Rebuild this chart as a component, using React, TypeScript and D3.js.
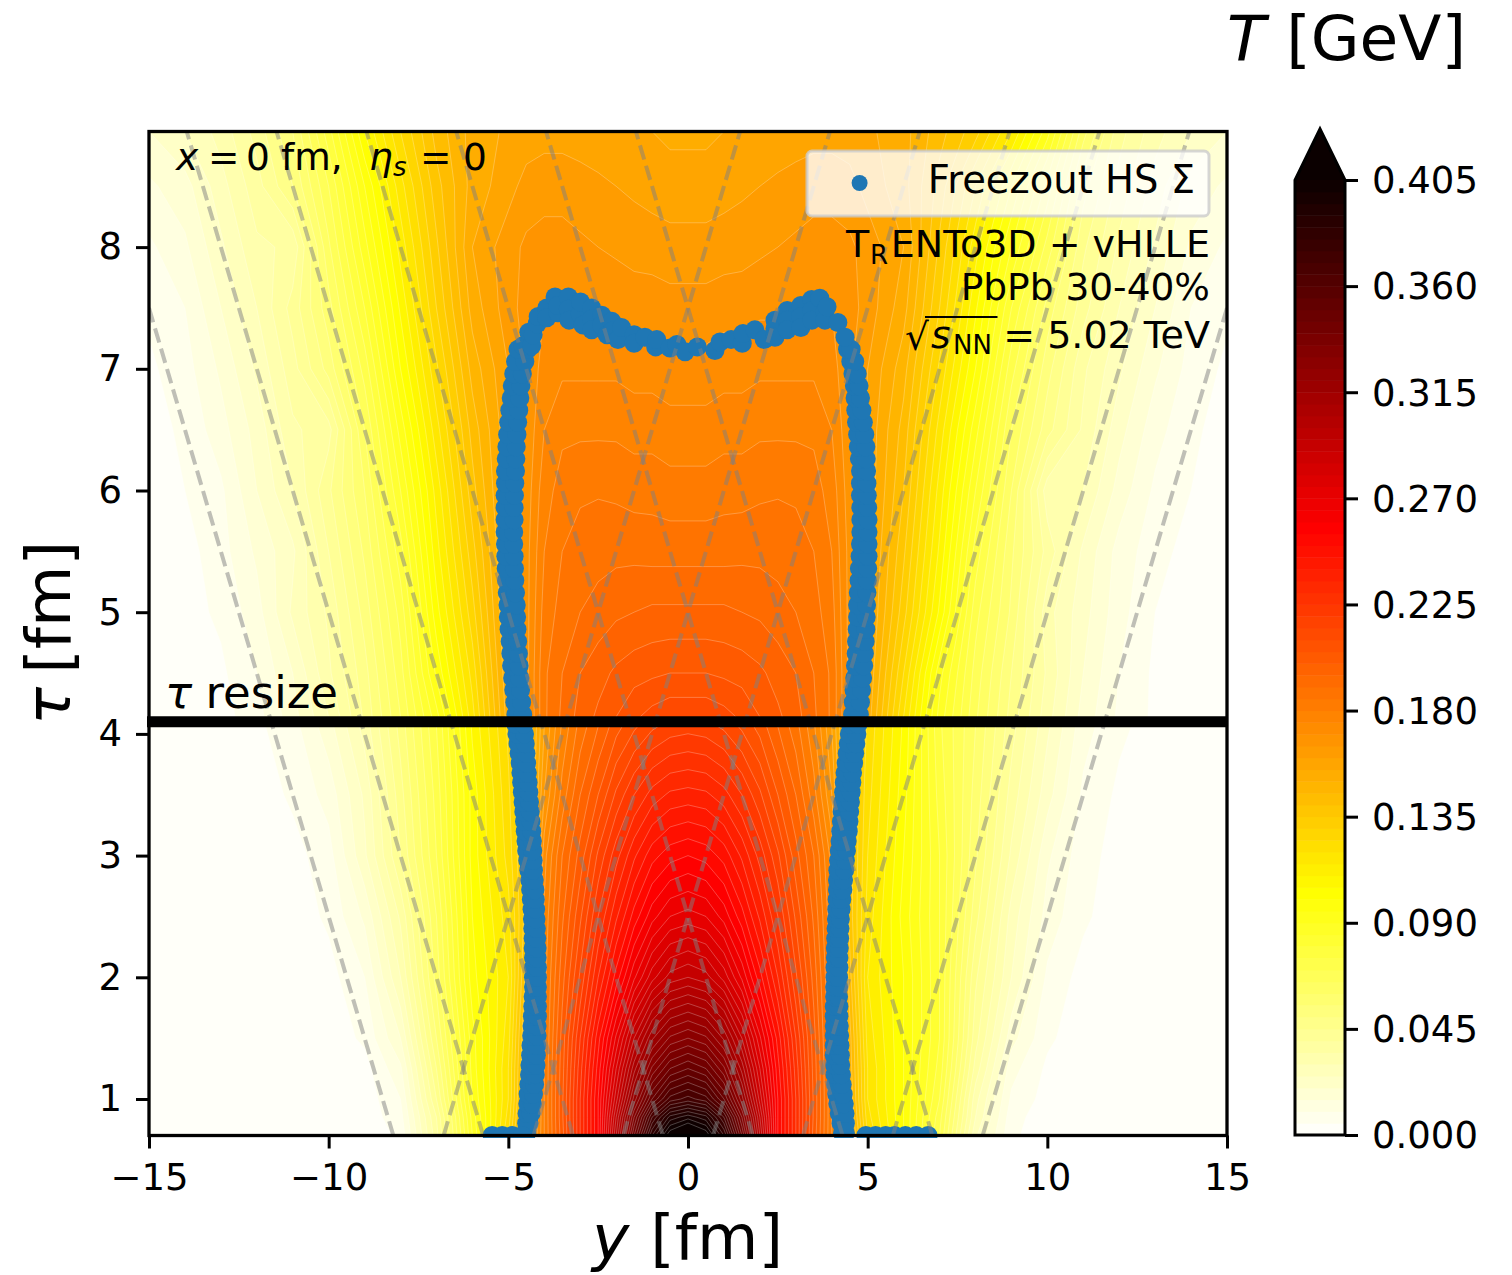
import * as React from "react";
import { useEffect, useRef } from "react";
import * as d3 from "d3";

// tick labels
const yTicks = [-15, -10, -5, 0, 5, 10, 15];
const tauTicks = [1, 2, 3, 4, 5, 6, 7, 8];
const cbarTicks = [0, 0.045, 0.09, 0.135, 0.18, 0.225, 0.27, 0.315, 0.36, 0.405];

// temperature grid, in MeV
const gridY = [-15, -14, -13, -12, -11, -10, -9, -8, -7, -6, -5,
  -4.5, -4, -3.5, -3, -2.5, -2, -1.5, -1, -0.5, 0, 0.5, 1, 1.5, 2, 2.5, 3, 3.5, 4, 4.5,
  5, 6, 7, 8, 9, 10, 11, 12, 13, 14, 15];
const gridTau = [0.7, 0.85, 1, 1.25, 1.5, 2, 2.5, 3, 3.5, 4.06, 4.14, 4.5, 5, 5.5, 6, 6.5, 7, 7.5, 8, 8.5, 8.95];

// y = -15 .. -5
const fieldLeft = [
  [2, 2, 2, 2, 2, 2, 2, 6, 38, 85, 125],
  [2, 2, 2, 2, 2, 2, 2, 8, 40, 87, 122],
  [2, 2, 2, 2, 2, 2, 2, 10, 45, 90, 120],
  [2, 2, 2, 2, 2, 2, 3, 14, 50, 92, 120],
  [2, 2, 2, 2, 2, 2, 6, 20, 55, 93, 118],
  [2, 2, 2, 2, 2, 3, 10, 30, 62, 98, 115],
  [2, 2, 2, 2, 2, 6, 16, 36, 65, 100, 118],
  [2, 2, 2, 2, 3, 8, 24, 45, 70, 102, 122],
  [2, 2, 2, 2, 6, 12, 26, 48, 72, 102, 124],
  [2, 2, 2, 4, 8, 18, 32, 52, 75, 106, 126],
  [2, 2, 3, 8, 18, 30, 46, 65, 88, 118, 153],
  [2, 2, 4, 10, 20, 34, 48, 68, 96, 122, 155],
  [2, 3, 6, 13, 26, 36, 52, 72, 103, 128, 157],
  [2, 3, 8, 16, 24, 40, 56, 78, 108, 133, 158],
  [2, 5, 9, 20, 30, 44, 60, 85, 112, 138, 159],
  [3, 6, 13, 22, 34, 38, 65, 92, 118, 142, 159],
  [4, 8, 16, 26, 38, 52, 72, 100, 124, 147, 160],
  [6, 10, 20, 30, 42, 58, 80, 106, 130, 152, 163],
  [9, 14, 24, 34, 36, 64, 88, 112, 134, 155, 163],
  [14, 18, 28, 38, 50, 70, 95, 118, 138, 152, 158],
  [20, 25, 32, 42, 55, 78, 105, 125, 142, 152, 156],
];
// y = -4.5 .. 0, the core looks mirror symmetric
const fieldCore = [
  [155, 180, 203, 230, 255, 300, 345, 385, 410, 420],
  [152, 180, 204, 230, 255, 295, 335, 370, 392, 398],
  [150, 180, 204, 230, 255, 288, 322, 350, 367, 372],
  [148, 180, 203, 228, 252, 280, 308, 331, 345, 350],
  [147, 179, 202, 225, 248, 271, 295, 314, 326, 330],
  [142, 178, 198, 216, 235, 252, 269, 283, 292, 295],
  [138, 176, 194, 209, 225, 239, 252, 263, 270, 272],
  [138, 173, 190, 202, 216, 228, 239, 248, 253, 255],
  [137, 165, 182, 195, 205, 216, 225, 232, 236, 237],
  [137, 160, 176, 187, 195, 203, 209, 214, 217, 218],
  [168, 184, 191, 197, 201, 205, 209, 212, 214, 214],
  [168, 184, 190, 195, 198, 201, 203, 204, 205, 205],
  [168, 182, 187, 190, 192, 194, 195, 196, 196, 196],
  [168, 180, 185, 187.5, 188, 188.5, 188.5, 188, 188, 188],
  [167, 178, 182, 184, 184.5, 184, 183, 183, 182, 182],
  [166, 175, 179, 179, 179, 179, 178, 178, 177, 177],
  [166, 172, 174, 174, 174, 174, 173, 173, 172, 172],
  [167, 170, 170, 170, 169, 169, 168, 168, 167, 167],
  [166, 167, 167, 166, 165, 164, 163, 162.5, 162, 162],
  [162, 163, 163, 162, 161, 160, 159, 158, 157, 157],
  [157, 158, 158, 157.5, 157, 156, 155, 155, 154, 154],
];
// y = 5 .. 15
const fieldRight = [
  [125, 100, 70, 26, 6, 2, 2, 2, 2, 2, 2],
  [122, 100, 72, 30, 7, 2, 2, 2, 2, 2, 2],
  [120, 100, 75, 32, 9, 3, 2, 2, 2, 2, 2],
  [120, 100, 78, 38, 12, 4, 2, 2, 2, 2, 2],
  [118, 100, 80, 42, 17, 6, 2, 2, 2, 2, 2],
  [115, 100, 80, 46, 25, 9, 3, 2, 2, 2, 2],
  [118, 98, 80, 52, 28, 13, 6, 2, 2, 2, 2],
  [120, 100, 80, 56, 34, 16, 7, 3, 2, 2, 2],
  [122, 102, 78, 58, 38, 22, 9, 4, 2, 2, 2],
  [124, 104, 76, 60, 42, 26, 12, 6, 3, 2, 2],
  [153, 120, 88, 66, 48, 32, 18, 9, 4, 2, 2],
  [155, 125, 92, 68, 50, 34, 20, 10, 4, 2, 2],
  [157, 132, 104, 72, 54, 32, 22, 12, 5, 3, 2],
  [158, 136, 109, 78, 56, 38, 24, 13, 7, 3, 2],
  [159, 140, 113, 85, 60, 32, 30, 18, 9, 5, 2],
  [159, 143, 118, 92, 65, 47, 34, 22, 12, 6, 3],
  [160, 147, 124, 100, 72, 52, 36, 26, 16, 8, 4],
  [163, 152, 130, 106, 80, 58, 42, 30, 20, 10, 6],
  [163, 155, 134, 112, 90, 68, 46, 34, 24, 14, 9],
  [158, 152, 138, 120, 100, 78, 52, 38, 28, 18, 14],
  [156, 152, 142, 132, 115, 92, 62, 42, 32, 25, 20],
];

// freezeout surface below the resize time, two tracks per side
const lowerTau = [0.72, 0.8, 0.88, 0.96, 1.04, 1.12, 1.2, 1.28, 1.36, 1.44, 1.52, 1.6, 1.68, 1.76, 1.84, 1.92, 2.0, 2.08, 2.16, 2.24, 2.32, 2.4, 2.48, 2.56, 2.64, 2.72, 2.8, 2.88, 2.96, 3.04, 3.12, 3.2, 3.28, 3.36, 3.44, 3.52, 3.6, 3.68, 3.76, 3.84, 3.92, 4.0, 4.08];
const lowerLeftOuter = [-4.5, -4.49, -4.48, -4.46, -4.45, -4.43, -4.41, -4.4, -4.38, -4.37, -4.35, -4.34, -4.33, -4.32, -4.31, -4.3, -4.3, -4.3, -4.3, -4.31, -4.31, -4.32, -4.33, -4.34, -4.36, -4.38, -4.4, -4.43, -4.46, -4.49, -4.51, -4.53, -4.55, -4.57, -4.59, -4.61, -4.63, -4.65, -4.67, -4.7, -4.73, -4.76, -4.79];
const lowerLeftInner = [-4.49, -4.43, -4.37, -4.33, -4.3, -4.27, -4.25, -4.23, -4.22, -4.21, -4.2, -4.2, -4.19, -4.19, -4.19, -4.19, -4.19, -4.19, -4.2, -4.2, -4.21, -4.22, -4.23, -4.24, -4.25, -4.26, -4.28, -4.3, -4.31, -4.32, -4.33, -4.35, -4.37, -4.39, -4.41, -4.43, -4.45, -4.47, -4.49, -4.51, -4.53, -4.55, -4.57];
const lowerRightInner = [4.3, 4.26, 4.21, 4.17, 4.14, 4.11, 4.09, 4.08, 4.07, 4.07, 4.07, 4.07, 4.07, 4.07, 4.08, 4.08, 4.09, 4.09, 4.1, 4.1, 4.11, 4.12, 4.13, 4.14, 4.15, 4.16, 4.16, 4.17, 4.19, 4.21, 4.23, 4.25, 4.27, 4.29, 4.31, 4.33, 4.35, 4.37, 4.4, 4.43, 4.46, 4.49, 4.52];
const lowerRightOuter = [4.38, 4.38, 4.37, 4.35, 4.32, 4.29, 4.27, 4.25, 4.24, 4.23, 4.22, 4.21, 4.2, 4.2, 4.19, 4.19, 4.19, 4.2, 4.2, 4.21, 4.22, 4.23, 4.24, 4.26, 4.28, 4.31, 4.33, 4.36, 4.38, 4.41, 4.43, 4.46, 4.48, 4.5, 4.52, 4.54, 4.56, 4.58, 4.61, 4.64, 4.67, 4.7, 4.73];

// and above it
const upperTau = [4.16, 4.26, 4.36, 4.46, 4.56, 4.66, 4.76, 4.86, 4.96, 5.06, 5.16, 5.26, 5.36, 5.46, 5.56, 5.66, 5.76, 5.86, 5.96, 6.06, 6.16, 6.26, 6.36, 6.46, 6.56, 6.66, 6.76, 6.86, 6.96, 7.06, 7.16];
const upperLeftOuter = [-4.79, -4.82, -4.85, -4.88, -4.91, -4.93, -4.95, -4.98, -5.0, -5.01, -5.03, -5.05, -5.06, -5.07, -5.08, -5.09, -5.09, -5.09, -5.09, -5.08, -5.08, -5.06, -5.04, -5.02, -4.99, -4.96, -4.92, -4.89, -4.85, -4.8, -4.73];
const upperLeftInner = [-4.6, -4.63, -4.66, -4.68, -4.7, -4.72, -4.74, -4.76, -4.77, -4.78, -4.8, -4.82, -4.83, -4.84, -4.85, -4.85, -4.84, -4.84, -4.83, -4.82, -4.8, -4.79, -4.78, -4.76, -4.74, -4.71, -4.68, -4.65, -4.61, -4.54, -4.46];
const upperRightInner = [4.58, 4.6, 4.62, 4.64, 4.66, 4.68, 4.69, 4.71, 4.72, 4.72, 4.74, 4.76, 4.77, 4.79, 4.8, 4.81, 4.81, 4.81, 4.8, 4.8, 4.8, 4.77, 4.74, 4.72, 4.69, 4.67, 4.65, 4.63, 4.59, 4.53, 4.44];
const upperRightOuter = [4.77, 4.8, 4.83, 4.86, 4.89, 4.91, 4.93, 4.95, 4.96, 4.97, 4.98, 4.99, 5.0, 5.01, 5.01, 5.01, 5.01, 5.0, 4.99, 4.98, 4.97, 4.96, 4.95, 4.92, 4.88, 4.84, 4.8, 4.76, 4.71, 4.64, 4.54];

// the cap of the surface, left to right
const capY = [-4.59, -4.35, -4.43, -4.31, -4.2, -4.17, -3.93, -3.93, -3.7, -3.62, -3.62, -3.33, -3.33, -3.31, -3.0, -2.99, -2.92, -2.68, -2.68, -2.68, -2.4, -2.4, -2.25, -2.12, -2.1, -1.95, -1.85, -1.5, -1.5, -1.2, -0.9, -0.87, -0.5, -0.31, -0.08, 0.26, 0.75, 0.89, 1.2, 1.51, 1.53, 1.86, 2.12, 2.42, 2.42, 2.42, 2.76, 2.76, 2.76, 3.14, 3.14, 3.14, 3.44, 3.45, 3.45, 3.67, 3.81, 3.81, 3.87, 4.17, 4.37];
const capTau = [7.19, 7.19, 7.3, 7.28, 7.37, 7.43, 7.5, 7.42, 7.59, 7.46, 7.52, 7.59, 7.49, 7.4, 7.45, 7.55, 7.36, 7.5, 7.41, 7.32, 7.44, 7.36, 7.28, 7.39, 7.31, 7.24, 7.34, 7.28, 7.21, 7.26, 7.18, 7.24, 7.17, 7.2, 7.14, 7.18, 7.15, 7.22, 7.24, 7.21, 7.29, 7.32, 7.24, 7.4, 7.33, 7.26, 7.48, 7.4, 7.32, 7.52, 7.43, 7.34, 7.57, 7.48, 7.4, 7.58, 7.47, 7.4, 7.51, 7.38, 7.26];

// the row of cells sitting on the initial time
const startY = [-5.45, -5.17, -4.89, -4.61, 4.95, 5.22, 5.5, 5.75, 6.05, 6.35, 6.68];
const startTau = 0.7;

// light-cone guides
const coneOffsets = [-7.5, -5, -2.5, 0, 2.5, 5, 7.5];

const resizeTau = 4.1;

// matplotlib hot_r
const hotStops = [0, 0.10286, 0.25714, 0.405];
const hotColors = ["#ffffff", "#ffff00", "#ff0000", "#0b0000"];

const levelStep = 5; // MeV
const maxLevel = 405;

const font = "'DejaVu Sans'";
const pointR = 9.5;

export default function App() {
  const ref = useRef<SVGSVGElement | null>(null);

  useEffect(() => {
    const svg = d3.select(ref.current);
    svg.selectAll("*").remove();

    const x = d3.scaleLinear().domain([-15, 15]).range([149, 1227]);
    const y = d3.scaleLinear().domain([0.7, 8.95]).range([1135.5, 131.5]);
    const cbar = d3.scaleLinear().domain([0, 0.405]).range([1135, 180]);
    const color = d3.scaleLinear<string>().domain(hotStops).range(hotColors).clamp(true);

    // grid index -> data coordinate (d3.contours puts a value at index + .5)
    const gx = d3.scaleLinear().domain(gridY.map((_, i) => i + 0.5)).range(gridY);
    const gt = d3.scaleLinear().domain(gridTau.map((_, i) => i + 0.5)).range(gridTau);

    const values: number[] = [];
    gridTau.forEach((_, j) => {
      const core = fieldCore[j];
      values.push(...fieldLeft[j], ...core, ...core.slice(0, -1).reverse(), ...fieldRight[j]);
    });

    const levels = d3.range(levelStep, maxLevel + levelStep, levelStep);
    const contours = d3.contours().size([gridY.length, gridTau.length]).thresholds(levels)(values);

    const path = d3.geoPath(d3.geoTransform({
      point(px, py) {
        this.stream.point(x(gx(px)), y(gt(py)));
      }
    }));

    const defs = svg.append("defs");
    defs.append("clipPath").attr("id", "plot").append("rect")
      .attr("x", 149).attr("y", 131.5).attr("width", 1078).attr("height", 1004);
    defs.append("clipPath").attr("id", "scatter").append("rect")
      .attr("x", 149).attr("y", 131.5).attr("width", 1078).attr("height", 1006.5);

    // filled contours
    const field = svg.append("g").attr("clip-path", "url(#plot)");
    field.append("rect").attr("x", 149).attr("y", 131.5).attr("width", 1078).attr("height", 1004)
      .attr("fill", color(levelStep / 2000));
    field.selectAll("path").data(contours).enter().append("path")
      .attr("d", d => path(d))
      .attr("fill", d => color((d.value + levelStep / 2) / 1000))
      .attr("stroke", "#fff")
      .attr("stroke-opacity", 0.32)
      .attr("stroke-width", 0.8);

    // freezeout points
    const pts: [number, number][] = [];
    lowerTau.forEach((t, i) => {
      pts.push([lowerLeftOuter[i], t], [lowerLeftInner[i], t], [lowerRightInner[i], t], [lowerRightOuter[i], t]);
    });
    upperTau.forEach((t, i) => {
      pts.push([upperLeftOuter[i], t], [upperLeftInner[i], t], [upperRightInner[i], t], [upperRightOuter[i], t]);
    });
    capY.forEach((v, i) => pts.push([v, capTau[i]]));
    startY.forEach(v => pts.push([v, startTau]));

    svg.append("g").attr("clip-path", "url(#scatter)")
      .selectAll("circle").data(pts).enter().append("circle")
      .attr("cx", d => x(d[0]))
      .attr("cy", d => y(d[1]))
      .attr("r", pointR)
      .attr("fill", "#1f77b4");

    // dashed light cones
    const cones = svg.append("g").attr("clip-path", "url(#plot)");
    const line = d3.line<[number, number]>().x(d => x(d[0])).y(d => y(d[1]));
    coneOffsets.forEach(c => {
      [-1, 1].forEach(sign => {
        cones.append("path")
          .attr("d", line([[c + sign * 0.7, 0.7], [c + sign * 8.95, 8.95]]))
          .attr("fill", "none")
          .attr("stroke", "gray")
          .attr("stroke-opacity", 0.5)
          .attr("stroke-width", 4)
          .attr("stroke-dasharray", "14.8 6.4");
      });
    });

    // resize line
    svg.append("line")
      .attr("x1", 147).attr("x2", 1227)
      .attr("y1", y(resizeTau)).attr("y2", y(resizeTau))
      .attr("stroke", "#000").attr("stroke-width", 11);

    // frame
    svg.append("rect").attr("x", 149).attr("y", 131.5).attr("width", 1078).attr("height", 1004)
      .attr("fill", "none").attr("stroke", "#000").attr("stroke-width", 3.3);

    const styleAxis = (g: any) => {
      g.select(".domain").remove();
      g.attr("font-family", font).attr("font-size", 37);
      g.selectAll(".tick line").attr("stroke", "#000").attr("stroke-width", 3);
      g.selectAll(".tick text").attr("fill", "#000");
    };

    svg.append("g").attr("transform", "translate(0,1135.5)")
      .call(d3.axisBottom(x).tickValues(yTicks).tickSize(13).tickPadding(15).tickFormat(d3.format("d")) as any)
      .call(styleAxis);
    svg.append("g").attr("transform", "translate(149,0)")
      .call(d3.axisLeft(y).tickValues(tauTicks).tickSize(13).tickPadding(14).tickFormat(d3.format("d")) as any)
      .call(styleAxis);

    // colorbar
    const bar = svg.append("g");
    levels.forEach(l => {
      const lo = (l - levelStep) / 1000;
      const hi = l / 1000;
      bar.append("rect")
        .attr("x", 1295).attr("width", 50)
        .attr("y", cbar(hi)).attr("height", cbar(lo) - cbar(hi) + 0.5)
        .attr("fill", color((lo + hi) / 2));
    });
    bar.append("path")
      .attr("d", d3.line()([[1295, 180], [1320, 129], [1345, 180]]) + "Z")
      .attr("fill", "#0b0000");
    bar.append("path")
      .attr("d", d3.line()([[1295, 1135], [1295, 180], [1320, 129], [1345, 180], [1345, 1135]]) + "Z")
      .attr("fill", "none").attr("stroke", "#000").attr("stroke-width", 3);
    const cbarAxis = svg.append("g").attr("transform", "translate(1345,0)")
      .call(d3.axisRight(cbar).tickValues(cbarTicks).tickSize(13).tickPadding(14).tickFormat(d3.format(".3f")) as any)
      .call(styleAxis);
    cbarAxis.selectAll(".tick text").attr("y", 1);

    // legend
    svg.append("rect")
      .attr("x", 807).attr("y", 151).attr("width", 402).attr("height", 65).attr("rx", 5)
      .attr("fill", "#fff").attr("fill-opacity", 0.8)
      .attr("stroke", "#ccc").attr("stroke-opacity", 0.8).attr("stroke-width", 3);
    svg.append("circle").attr("cx", 859.6).attr("cy", 183).attr("r", 8).attr("fill", "#1f77b4");

    const text = (s: string, px: number, py: number, size: number, anchor = "start", italic = false) =>
      svg.append("text")
        .attr("x", px).attr("y", py)
        .attr("font-family", font).attr("font-size", size)
        .attr("font-style", italic ? "italic" : "normal")
        .attr("text-anchor", anchor)
        .attr("fill", "#000")
        .text(s);

    text("Freezout HS Σ", 1195, 193, 38.5, "end");

    // big labels
    text("T", 1227, 60, 63, "start", true);
    text("[GeV]", 1466, 60, 63, "end");
    text("y", 592, 1259, 63, "start", true);
    text("[fm]", 783, 1259, 63, "end");
    text("τ", 0, 0, 63, "start", true).attr("transform", "translate(70,725) rotate(-90)");
    text("[fm]", 0, 0, 63, "end").attr("transform", "translate(70,541) rotate(-90)");

    text("τ", 165, 708, 45, "start", true);
    text("resize", 338, 708, 45, "end");

    // x = 0 fm, eta_s = 0
    text("x", 176, 170, 37.5, "start", true);
    text("=", 208, 170, 37.5);
    text("0", 246, 170, 37.5);
    text("fm,", 281, 170, 37.5);
    text("η", 369, 170, 37.5, "start", true);
    text("s", 393, 176, 26, "start", true);
    text("=", 420, 170, 37.5);
    text("0", 463, 170, 37.5);

    // generator block
    text("T", 846, 257, 38);
    text("R", 870, 264, 26);
    text("ENTo3D + vHLLE", 1210, 257, 38, "end");
    text("PbPb 30-40%", 1210, 300, 37.5, "end");
    text("√", 905, 350, 37.5);
    svg.append("line").attr("x1", 925).attr("x2", 997.5).attr("y1", 317).attr("y2", 317)
      .attr("stroke", "#000").attr("stroke-width", 2.2);
    text("s", 931, 348, 37.5, "start", true);
    text("NN", 953, 354, 26);
    text("= 5.02 TeV", 1210, 348, 38, "end");
  }, []);

  return <svg ref={ref} width={1512} height={1275} style={{ position: "absolute", left: 0, top: 0 }} />;
}
